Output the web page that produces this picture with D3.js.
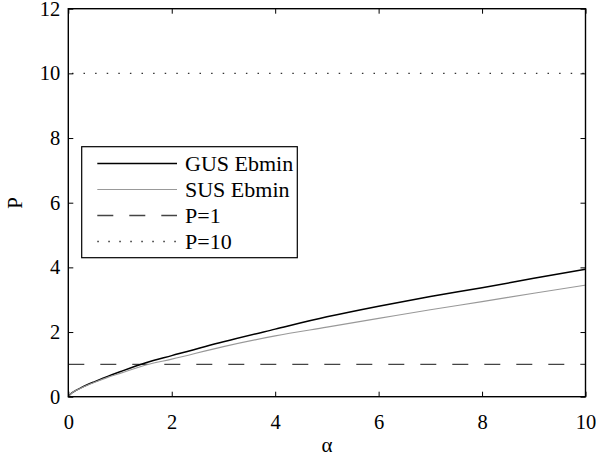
<!DOCTYPE html>
<html>
<head>
<meta charset="utf-8">
<script src="https://cdn.jsdelivr.net/npm/d3@7"></script>
<style>
  body { margin: 0; background: #fff; }
  svg text { font-family: "Liberation Serif", "Tinos", "Times New Roman", Times, "DejaVu Serif", serif !important; }
</style>
</head>
<body>
<div id="chart"></div>
<script>
// data
var alpha = [0, 0.05, 0.1, 0.25, 0.5, 0.75, 1, 1.5, 2, 3, 4, 5, 6, 7, 8, 9, 10];
var gus   = [0, 0.09, 0.15, 0.28, 0.46, 0.62, 0.77, 1.05, 1.27, 1.70, 2.09, 2.47, 2.80, 3.10, 3.37, 3.66, 3.94];
var sus   = [0, 0.09, 0.15, 0.27, 0.44, 0.59, 0.72, 0.98, 1.16, 1.55, 1.88, 2.15, 2.42, 2.69, 2.94, 3.20, 3.45];
var refLevels = [1, 10];
var xTicks = [0, 2, 4, 6, 8, 10];
var yTicks = [0, 2, 4, 6, 8, 10, 12];
var legendLabels = ["GUS Ebmin", "SUS Ebmin", "P=1", "P=10"];

var serif = "'Liberation Serif', 'Times New Roman', Times, serif";

// margin
var W = 596, H = 457;
var margin = {top: 8.7, right: 10.5, bottom: 60.3, left: 68.3},
    width = W - margin.left - margin.right,
    height = H - margin.top - margin.bottom;

var svg = d3.select("#chart").append("svg")
    .attr("width", W)
    .attr("height", H)
    .style("font-family", serif);

var g = svg.append("g")
    .attr("transform", "translate(" + margin.left + "," + margin.top + ")");

var x = d3.scaleLinear().domain([0, 10]).range([0, width]);
var y = d3.scaleLinear().domain([0, 12]).range([height, 0]);

// styles for each series
var styles = [
  {stroke: "#000", width: 1.5, dash: null},
  {stroke: "#999", width: 1.2, dash: null},
  {stroke: "#444", width: 1.4, dash: "16,16"},
  {stroke: "#333", width: 1.3, dash: "1.5,10.1"}
];

var line = d3.line()
    .x(function(d) { return x(d[0]); })
    .y(function(d) { return y(d[1]); })
    .curve(d3.curveMonotoneX);

// reference lines
refLevels.forEach(function(v, i) {
  var s = styles[i + 2];
  g.append("line")
      .attr("x1", 0).attr("x2", width)
      .attr("y1", y(v)).attr("y2", y(v))
      .attr("stroke", s.stroke)
      .attr("stroke-width", s.width)
      .attr("stroke-dasharray", s.dash)
      .attr("stroke-dashoffset", i == 1 ? -3.6 : 0);
});

// curves
[gus, sus].forEach(function(series, i) {
  var s = styles[i];
  g.append("path")
      .datum(alpha.map(function(a, j) { return [a, series[j]]; }))
      .attr("fill", "none")
      .attr("stroke", s.stroke)
      .attr("stroke-width", s.width)
      .attr("d", line);
});

// axes, ticks inward on all four sides
function styleAxis(sel) {
  sel.attr("font-family", null).attr("font-size", null);
  sel.select(".domain").remove();
  sel.selectAll(".tick line").attr("stroke", "#000").attr("stroke-width", 1);
  sel.selectAll(".tick text").attr("fill", "#000")
     .style("font-size", "20.5px").style("font-family", serif);
}

g.append("g")
    .attr("transform", "translate(0," + height + ")")
    .call(d3.axisBottom(x).tickValues(xTicks).tickSize(-5).tickPadding(18))
    .call(styleAxis);
g.append("g")
    .call(d3.axisTop(x).tickValues(xTicks).tickSize(-5).tickFormat(""))
    .call(styleAxis);
g.append("g")
    .call(d3.axisLeft(y).tickValues(yTicks).tickSize(-5).tickPadding(8))
    .call(styleAxis);
g.append("g")
    .attr("transform", "translate(" + width + ",0)")
    .call(d3.axisRight(y).tickValues(yTicks).tickSize(-5).tickFormat(""))
    .call(styleAxis);

g.append("rect")
    .attr("width", width)
    .attr("height", height)
    .attr("fill", "none")
    .attr("stroke", "#000")
    .attr("stroke-width", 1.4);

// axis labels
svg.append("text")
    .attr("x", margin.left + width / 2)
    .attr("y", 452)
    .attr("text-anchor", "middle")
    .style("font-size", "21px")
    .text("α");

svg.append("text")
    .attr("transform", "translate(22,203) rotate(-90)")
    .attr("text-anchor", "middle")
    .style("font-size", "21px")
    .text("P");

// legend
var legend = svg.append("g");
legend.append("rect")
    .attr("x", 81.7).attr("y", 146.7)
    .attr("width", 215.6).attr("height", 111)
    .attr("fill", "#fff")
    .attr("stroke", "#000")
    .attr("stroke-width", 1.2);

legendLabels.forEach(function(lbl, i) {
  var s = styles[i];
  var ly = 163.5 + i * 26;
  legend.append("line")
      .attr("x1", 97.3).attr("x2", 177)
      .attr("y1", ly).attr("y2", ly)
      .attr("stroke", s.stroke)
      .attr("stroke-width", s.width)
      .attr("stroke-dasharray", i == 3 ? "1.5,9.5" : s.dash);
  legend.append("text")
      .attr("x", 185)
      .attr("y", ly + 7.5)
      .style("font-size", "22px")
      .text(lbl);
});
</script>
</body>
</html>
